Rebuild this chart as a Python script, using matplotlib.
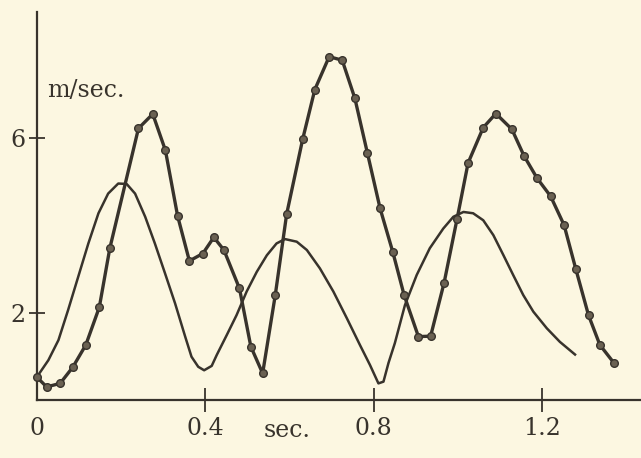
import matplotlib.pyplot as plt

# smooth curve (no markers)
tSmooth = [0, 0.027, 0.051, 0.074, 0.098, 0.122, 0.146, 0.169, 0.193, 0.213,
           0.233, 0.257, 0.280, 0.304, 0.328, 0.352, 0.367, 0.383, 0.397, 0.415,
           0.427, 0.451, 0.474, 0.498, 0.522, 0.546, 0.569, 0.589, 0.617, 0.641,
           0.672, 0.704, 0.736, 0.767, 0.791, 0.811, 0.823, 0.835, 0.850, 0.874,
           0.902, 0.933, 0.965, 0.989, 1.013, 1.036, 1.060, 1.084, 1.108, 1.131,
           1.155, 1.179, 1.211, 1.242, 1.278]
vSmooth = [0.53, 0.91, 1.37, 2.06, 2.82, 3.58, 4.27, 4.72, 4.95, 4.94,
           4.72, 4.19, 3.58, 2.90, 2.21, 1.45, 0.99, 0.76, 0.68, 0.78,
           1.03, 1.49, 1.94, 2.48, 2.93, 3.31, 3.58, 3.68, 3.62, 3.43,
           3.01, 2.48, 1.87, 1.26, 0.80, 0.38, 0.42, 0.85, 1.30, 2.17,
           2.86, 3.47, 3.92, 4.19, 4.30, 4.27, 4.11, 3.77, 3.31, 2.86,
           2.40, 2.02, 1.64, 1.33, 1.04]

# measured curve (with dots)
tDots = [0, 0.023, 0.055, 0.085, 0.116, 0.148, 0.173, 0.241, 0.275, 0.305,
         0.334, 0.362, 0.394, 0.420, 0.444, 0.481, 0.508, 0.536, 0.566, 0.593,
         0.631, 0.660, 0.694, 0.725, 0.755, 0.785, 0.815, 0.845, 0.872, 0.906,
         0.935, 0.967, 0.998, 1.024, 1.060, 1.090, 1.128, 1.157, 1.188, 1.220,
         1.252, 1.280, 1.310, 1.337, 1.371]
vDots = [0.52, 0.30, 0.38, 0.75, 1.26, 2.12, 3.47, 6.21, 6.54, 5.71,
         4.21, 3.18, 3.35, 3.72, 3.43, 2.55, 1.22, 0.61, 2.40, 4.25,
         5.96, 7.10, 7.85, 7.77, 6.90, 5.64, 4.38, 3.39, 2.40, 1.45,
         1.46, 2.68, 4.15, 5.42, 6.23, 6.55, 6.19, 5.58, 5.07, 4.66,
         4.00, 2.99, 1.94, 1.26, 0.84]

xTicks = [0, 0.4, 0.8, 1.2]
xLabels = ['0', '0.4', '0.8', '1.2']
yTicks = [2, 6]
yLabels = ['2', '6']

paper = '#fcf7e1'
ink = '#38332c'

plt.rcParams['font.family'] = ['DejaVu Serif']

fig = plt.figure(figsize=(6.41, 4.58), dpi=100, facecolor=paper)
ax = fig.add_axes([0.0577, 0.1266, 0.9423, 0.847])
ax.set_facecolor(paper)

ax.plot(tSmooth, vSmooth, '-', color=ink, lw=1.8, solid_joinstyle='round', clip_on=False)
ax.plot(tDots, vDots, '-o', color=ink, lw=2.4, ms=5.5, mfc='#6a6152', mec=ink, mew=1.0,
        solid_joinstyle='round', clip_on=False, zorder=3)

ax.set_xlim(0, 1.4347)
ax.set_ylim(0, 8.87)

for s in ['top', 'right']:
    ax.spines[s].set_visible(False)
for s in ['left', 'bottom']:
    ax.spines[s].set_color(ink)
    ax.spines[s].set_linewidth(1.6)

ax.set_xticks(xTicks)
ax.set_xticklabels(xLabels)
ax.set_yticks(yTicks)
ax.set_yticklabels(yLabels)
ax.tick_params(axis='x', direction='inout', length=17, width=1.3, color=ink,
               labelsize=17, labelcolor=ink, pad=4)
ax.tick_params(axis='y', direction='inout', length=11, width=1.3, color=ink,
               labelsize=17, labelcolor=ink, pad=3)
ax.xaxis.get_major_ticks()[0].tick1line.set_visible(False)

ax.text(0.594, -0.095, 'sec.', transform=ax.get_xaxis_transform(),
        ha='center', va='baseline', fontsize=17, color=ink)
ax.text(0.024, 6.93, 'm/sec.', ha='left', va='baseline', fontsize=17, color=ink)

fig.savefig('out.png', dpi=100, facecolor=paper)
